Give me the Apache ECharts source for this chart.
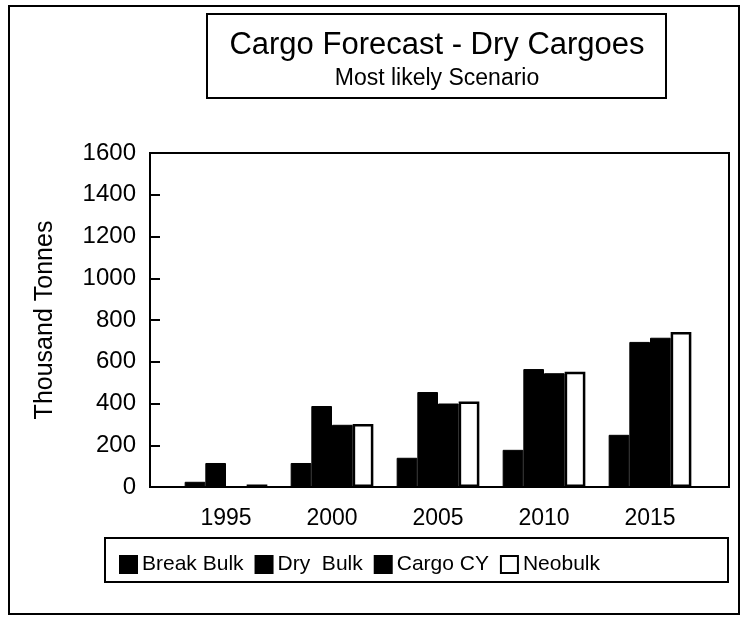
<!DOCTYPE html>
<html>
<head>
<meta charset="utf-8">
<script src="https://cdn.jsdelivr.net/npm/echarts@6/dist/echarts.min.js"></script>
<style>
  html, body { margin: 0; padding: 0; background: #fff; }
  #chart { width: 744px; height: 621px; }
</style>
</head>
<body>
<div id="chart"></div>
<script>
const years = ["1995", "2000", "2005", "2010", "2015"];
const breakBulk = [25, 115, 140, 178, 250];
const dryBulk = [115, 388, 455, 565, 695];
const cargoCY = [0, 298, 400, 545, 715];
const neobulk = [12, 302, 410, 552, 742];
const yTicks = [0, 200, 400, 600, 800, 1000, 1200, 1400, 1600];

const FONT = "Liberation Sans, Arial, sans-serif";

const chart = echarts.init(document.getElementById("chart"));

const barBase = {
  type: "bar",
  barGap: "0%",
  barCategoryGap: "22%",
  animation: false,
};

chart.setOption({
  backgroundColor: "#fff",
  textStyle: { fontFamily: FONT, color: "#000" },
  grid: { left: 173, right: 41, top: 153, bottom: 134 },
  xAxis: {
    type: "category",
    data: years,
    axisLine: { show: false },
    axisTick: { show: false },
    axisLabel: { color: "#000", fontSize: 23, margin: 20, fontFamily: FONT },
  },
  yAxis: {
    type: "value",
    min: yTicks[0],
    max: yTicks[yTicks.length - 1],
    interval: 200,
    offset: 23,
    name: "Thousand Tonnes",
    nameLocation: "middle",
    nameGap: 92,
    nameTextStyle: { fontSize: 25, color: "#000", fontFamily: FONT },
    axisLine: { show: true, lineStyle: { color: "#000", width: 2 } },
    axisTick: { show: true, inside: true, length: 10, lineStyle: { color: "#000", width: 2 } },
    axisLabel: {
      color: "#000", fontSize: 24, margin: 14, fontFamily: FONT,
      formatter: (v) => String(v),
    },
    splitLine: { show: false },
  },
  legend: {
    left: 114,
    top: 549,
    itemWidth: 17,
    itemHeight: 17,
    itemGap: 11,
    icon: "rect",
    textStyle: { fontSize: 21, color: "#000", fontFamily: FONT },
    data: ["Break Bulk", "Dry  Bulk", "Cargo CY", "Neobulk"],
  },
  graphic: [
    // outer frame
    { type: "rect", shape: { x: 9, y: 6, width: 730, height: 608 },
      style: { fill: null, stroke: "#000", lineWidth: 2 }, silent: true },
    // title box
    { type: "rect", shape: { x: 207, y: 14, width: 459, height: 84 },
      style: { fill: null, stroke: "#000", lineWidth: 2 }, silent: true },
    { type: "text", silent: true,
      style: { x: 437, y: 45, text: "Cargo Forecast - Dry Cargoes", font: "31px " + FONT,
               fill: "#000", align: "center", verticalAlign: "middle" } },
    { type: "text", silent: true,
      style: { x: 437, y: 79, text: "Most likely Scenario", font: "23px " + FONT,
               fill: "#000", align: "center", verticalAlign: "middle" } },
    // plot frame
    { type: "rect", shape: { x: 150, y: 153, width: 579, height: 334 },
      style: { fill: null, stroke: "#000", lineWidth: 2 }, silent: true, z: 10 },
    // legend box
    { type: "rect", shape: { x: 105, y: 538, width: 623, height: 44 },
      style: { fill: null, stroke: "#000", lineWidth: 2 }, silent: true },
  ],
  series: [
    Object.assign({}, barBase, {
      name: "Break Bulk", data: breakBulk,
      itemStyle: { color: "#000", borderColor: "#000", borderWidth: 1 },
    }),
    Object.assign({}, barBase, {
      name: "Dry  Bulk", data: dryBulk,
      itemStyle: { color: "#000", borderColor: "#000", borderWidth: 1 },
    }),
    Object.assign({}, barBase, {
      name: "Cargo CY", data: cargoCY,
      itemStyle: { color: "#000", borderColor: "#000", borderWidth: 1 },
    }),
    Object.assign({}, barBase, {
      name: "Neobulk", data: neobulk,
      itemStyle: { color: "#fff", borderColor: "#000", borderWidth: 2.5 },
    }),
  ],
});
</script>
</body>
</html>
